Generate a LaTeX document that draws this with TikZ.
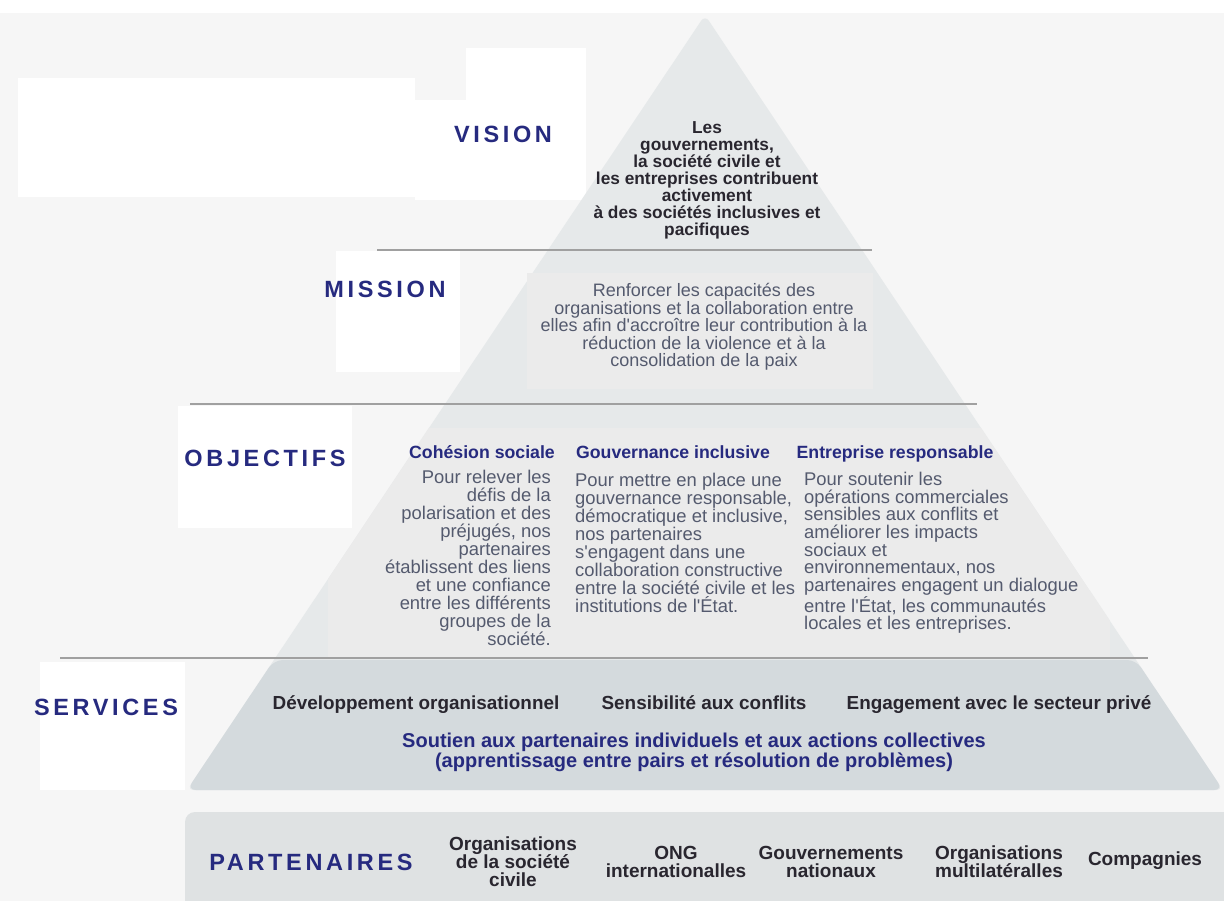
\documentclass[tikz,border=0pt]{standalone}
\usepackage{fontspec}
\setmainfont{Liberation Sans}[Ligatures=TeXOff]
\newfontfamily\lblfont[LetterSpace=15.5]{Liberation Sans}
\definecolor{bgc}{HTML}{F6F6F6}
\definecolor{navy}{HTML}{262A7F}
\definecolor{darktxt}{HTML}{29262F}
\definecolor{greytxt}{HTML}{545A6E}
\definecolor{trifill}{HTML}{E6E9EA}
\definecolor{boxfill}{HTML}{EBEBEB}
\definecolor{servfill}{HTML}{D4DADD}
\definecolor{partfill}{HTML}{DFE2E3}
\definecolor{divc}{HTML}{A0A0A0}
\tikzset{
  lbl/.style={font=\lblfont\fontsize{23.5}{26}\selectfont\bfseries, text=navy, inner sep=0pt},
  vistxt/.style={font=\fontsize{17.3}{17}\selectfont\bfseries, text=darktxt, align=center, inner sep=0pt},
  mistxt/.style={font=\fontsize{18}{17.5}\selectfont, text=greytxt, align=center, inner sep=0pt},
  objhead/.style={font=\fontsize{17.7}{18}\selectfont\bfseries, text=navy, inner sep=0pt, anchor=base},
  objbody/.style={font=\fontsize{18.4}{18}\selectfont, text=greytxt, inner sep=0pt},
  objbodyt/.style={font=\fontsize{18.4}{17.6}\selectfont, text=greytxt, inner sep=0pt},
  srvtxt/.style={font=\fontsize{18.9}{18}\selectfont\bfseries, text=darktxt, inner sep=0pt, anchor=base},
  srvnavy/.style={font=\fontsize{20}{18}\selectfont\bfseries, text=navy, align=center, inner sep=0pt},
  parttxt/.style={font=\fontsize{19}{18}\selectfont\bfseries, text=darktxt, align=center, inner sep=0pt},
  divider/.style={draw=divc, line width=2.5pt},
}
\begin{document}
\begin{tikzpicture}[x=1pt,y=-1pt]
\useasboundingbox (0,0) rectangle (1224,901);
\clip (0,0) rectangle (1224,901);
% background
\fill[bgc] (0,0) rectangle (1224,901);
\fill[white] (0,0) rectangle (1224,13);
\fill[white] (18,78) rectangle (415,197);
\fill[white] (415,100) rectangle (586,200);
\fill[white] (466,48) rectangle (586,100);
\fill[white] (336,251) rectangle (460,372);
\fill[white] (178,406) rectangle (352,528);
\fill[white] (40,662) rectangle (185,790);
% pyramid
\fill[trifill, rounded corners=7] (705,15) -- (187,790) -- (1223,790) -- cycle;
% mission box
\fill[boxfill] (527,273) rectangle (873,389);
% objectives box clipped to triangle
\begin{scope}
  \clip (705,15) -- (187,790) -- (1223,790) -- cycle;
  \fill[boxfill] (328,428) rectangle (1110,657);
\end{scope}
% services band
\fill[servfill, rounded corners=9] (274,660) -- (187,790) -- (1223,790) -- (1136,660) -- cycle;
% partners band
\fill[partfill, rounded corners=10] (185,812) rectangle (1240,920);
% dividers
\draw[divider] (377,250) -- (872,250);
\draw[divider] (190,404) -- (977,404);
\draw[divider] (60,658) -- (1148,658);

% labels
\node[lbl] (vision) at (503,134) {VISION};
\node[lbl] (mission) at (385,289) {MISSION};
\node[lbl] (objectifs) at (265,458) {OBJECTIFS};
\node[lbl] (services) at (106,707) {SERVICES};
\node[lbl] (partenaires) at (311,862) {PARTENAIRES};

% vision text
\node[vistxt] (vtext) at (707,180) {Les\\gouvernements,\\la société civile et\\les entreprises contribuent\\activement\\à des sociétés inclusives et\\pacifiques};

% mission text
\node[mistxt] (mtext) at (704,327) {Renforcer les capacités des\\organisations et la collaboration entre\\elles afin d'accroître leur contribution à la\\réduction de la violence et à la\\consolidation de la paix};

% objectives
\node[objhead] (h1) at (482,458) {Cohésion sociale};
\node[objhead] (h2) at (673,458) {Gouvernance inclusive};
\node[objhead] (h3) at (895,458) {Entreprise responsable};
\node[objbody, align=right, anchor=east] (b1) at (551,558) {Pour relever les\\défis de la\\polarisation et des\\préjugés, nos\\partenaires\\établissent des liens\\et une confiance\\entre les différents\\groupes de la\\société.};
\node[objbody, align=left, anchor=west] (b2) at (575,543) {Pour mettre en place une\\gouvernance responsable,\\démocratique et inclusive,\\nos partenaires\\s'engagent dans une\\collaboration constructive\\entre la société civile et les\\institutions de l'État.};
\node[objbodyt, align=left, anchor=west] (b3) at (804,553) {Pour soutenir les\\opérations commerciales\\sensibles aux conflits et\\améliorer les impacts\\sociaux et\\environnementaux, nos\\partenaires engagent un dialogue\\entre l'État, les communautés\\locales et les entreprises.};

% services
\node[srvtxt] (s1) at (416,709) {Développement organisationnel};
\node[srvtxt] (s2) at (704,709) {Sensibilité aux conflits};
\node[srvtxt] (s3) at (999,709) {Engagement avec le secteur privé};
\node[srvnavy] (s4) at (694,752) {Soutien aux partenaires individuels et aux actions collectives\\(apprentissage entre pairs et résolution de problèmes)};

% partners
\node[parttxt] (p1) at (513,862) {Organisations\\de la société\\civile};
\node[parttxt] (p2) at (676,862) {ONG\\internationalles};
\node[parttxt] (p3) at (831,862) {Gouvernements\\nationaux};
\node[parttxt] (p4) at (999,862) {Organisations\\multilatéralles};
\node[parttxt] (p5) at (1145,861) {Compagnies};
\end{tikzpicture}
\end{document}
